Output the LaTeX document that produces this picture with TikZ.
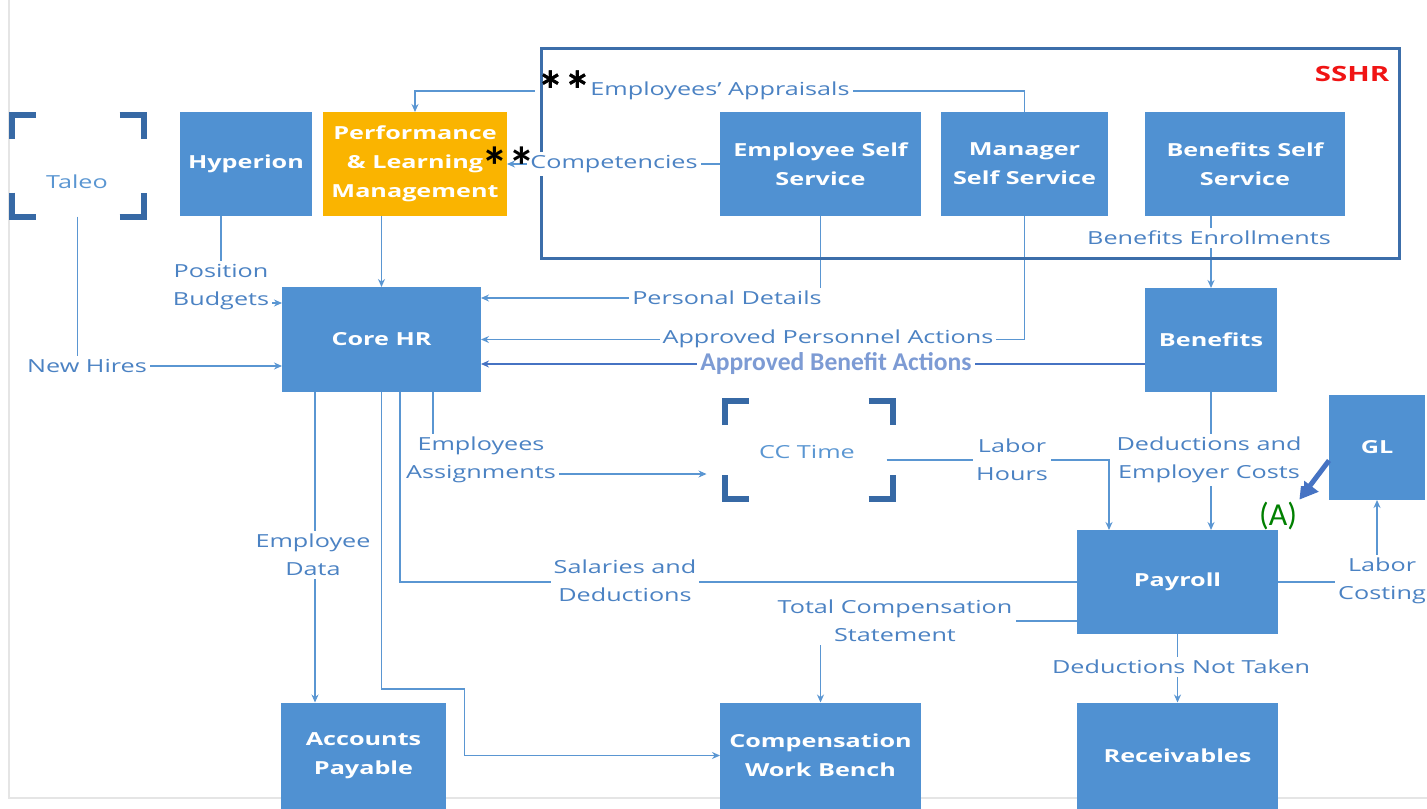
\documentclass[tikz,border=0pt]{standalone}
\usepackage{fontspec}
\setmainfont[FakeStretch=1.4]{Open Sans}
\newfontfamily\calib{Carlito}
\usetikzlibrary{arrows.meta}
\definecolor{boxblue}{RGB}{80,145,210}
\definecolor{plmorange}{RGB}{250,180,0}
\definecolor{lineblue}{RGB}{90,150,210}
\definecolor{txtblue}{RGB}{75,130,195}
\definecolor{frameblue}{RGB}{60,110,170}
\definecolor{brblue}{RGB}{55,105,165}
\definecolor{lightlbl}{RGB}{125,155,212}
\definecolor{arrblue}{RGB}{70,115,195}
\definecolor{agreen}{RGB}{0,128,0}
\definecolor{sshrred}{RGB}{240,20,20}
\newcommand\bracketsof[1]{%
  \draw[brk] ([yshift=-12pt]#1.north west) -- (#1.north west) -- ([xshift=12pt]#1.north west);
  \draw[brk] ([xshift=-12pt]#1.north east) -- (#1.north east) -- ([yshift=-12pt]#1.north east);
  \draw[brk] ([yshift=12pt]#1.south west) -- (#1.south west) -- ([xshift=12pt]#1.south west);
  \draw[brk] ([xshift=-12pt]#1.south east) -- (#1.south east) -- ([yshift=12pt]#1.south east);}
\begin{document}
\begin{tikzpicture}[x=0.5pt,y=-0.5pt,
  box/.style={fill=boxblue, text=white, font=\bfseries\fontsize{9}{14.5}\selectfont, align=center, inner sep=0pt, outer sep=0pt},
  lbl/.style={text=txtblue, font=\fontsize{9}{14}\selectfont, align=center, fill=white, inner sep=1.5pt},
  conn/.style={draw=lineblue, line width=0.6pt},
  arr/.style={conn, -{Stealth[length=4pt,width=3.5pt]}},
  brk/.style={draw=brblue, line width=3pt},
  hollow/.style={inner sep=0pt, outer sep=0pt},
  starlbl/.style={font=\calib\bfseries\fontsize{27}{27}\selectfont, text=black, inner sep=0pt},
  benlbl/.style={lbl, text=lightlbl, font=\calib\bfseries\fontsize{12.8}{14}\selectfont}]
\useasboundingbox (0,0) rectangle (1427,808);
\fill[white] (0,0) rectangle (1427,808);
\draw[black!10, line width=0.6pt] (9,0) -- (9,798) -- (1427,798);

% boxes
\node[box, minimum width=66pt, minimum height=52pt] (hyp) at (246,164) {Hyperion};
\node[box, fill=plmorange, minimum width=92pt, minimum height=52pt] (plm) at (415,164) {Performance\\\& Learning\\Management};
\node[box, minimum width=100.5pt, minimum height=52pt] (ess) at (820.5,164) {Employee Self\\Service};
\node[box, minimum width=83.5pt, minimum height=52pt] (mss) at (1024.5,164) {Manager\\Self Service};
\node[box, minimum width=100pt, minimum height=52pt] (bss) at (1245,164) {Benefits Self\\Service};
\node[box, minimum width=99.5pt, minimum height=52.5pt] (core) at (381.5,339.5) {Core HR};
\node[box, minimum width=66pt, minimum height=52pt] (ben) at (1211,340) {Benefits};
\node[box, minimum width=48pt, minimum height=52.5pt] (gl) at (1377,447.5) {GL};
\node[box, minimum width=100.5pt, minimum height=52pt] (pay) at (1177.5,582) {Payroll};
\node[box, minimum width=82.5pt, minimum height=53pt] (ap) at (363.5,755.5) {Accounts\\Payable};
\node[box, minimum width=100.5pt, minimum height=53pt] (cwb) at (820.5,755.5) {Compensation\\Work Bench};
\node[box, minimum width=100.5pt, minimum height=53pt] (rec) at (1177.5,755.5) {Receivables};

% bracket nodes
\node[hollow, minimum width=66pt, minimum height=51pt] (taleo) at (77.5,165.5) {};
\bracketsof{taleo}
\node[text=lineblue, font=\fontsize{9}{14}\selectfont, inner sep=0pt] (taleot) at (77,182) {Taleo};
\node[hollow, minimum width=84pt, minimum height=49pt] (cct) at (808.5,450) {};
\bracketsof{cct}
\node[text=lineblue, font=\fontsize{9}{14}\selectfont, inner sep=0pt] (cctt) at (807,452) {CC Time};

% labels (positions)
\node[lbl] (appr) at (720,91) {Employees’ Appraisals};
\node[lbl] (comp) at (614,164) {Competencies};
\node[lbl, fill=none] (posb) at (221,287) {Position\\Budgets};
\node[lbl] (newh) at (87,366) {New Hires};
\node[lbl] (pers) at (727,298) {Personal Details};
\node[lbl] (apa) at (828,339) {Approved Personnel Actions};
\node[lbl] (benr) at (1209,238) {Benefits Enrollments};
\node[lbl, fill=none] (empa) at (481,460) {Employees\\Assignments};
\node[lbl] (lhrs) at (1012,460) {Labor\\Hours};
\node[lbl] (dec) at (1209,460) {Deductions and\\Employer Costs};
\node[lbl] (empd) at (313,555) {Employee\\Data};
\node[lbl] (sal) at (625,581) {Salaries and\\Deductions};
\node[lbl] (lcost) at (1382,581) {Labor\\Costing};
\node[lbl] (tcs) at (895,621) {Total Compensation\\Statement};
\node[lbl] (dnt) at (1181,667) {Deductions Not Taken};
\node[benlbl] (aba) at (836,364) {Approved Benefit Actions};
\node[text=agreen, font=\calib\fontsize{16}{18}\selectfont, inner sep=0pt] (alab) at (1278,516) {(A)};

% connectors
\draw[arr] (mss.north) -- ++(0,-21) -| (plm.north);
\draw[arr] (ess.west) -- (plm.east);
\draw[arr] (core.north |- plm.south) -- (core.north);
\draw[conn] (posb.north |- hyp.south) -- (posb.north);
\draw[arr] ([yshift=-8pt]posb.east) -- ([yshift=-8pt]posb.east -| core.west);
\draw[conn] (taleo.south) -- (taleo.south |- newh.north);
\draw[arr] (newh.east) -- (newh.east -| core.west);
\draw[arr] (ess.south) |- ([yshift=20.75pt]core.east);
\draw[arr] (mss.south) |- (core.east);
\draw[arr, draw=arrblue, line width=1pt] ([yshift=-12pt]ben.west) -- ([yshift=-12pt]ben.west -| core.east);
\draw[arr] (bss.south -| ben.north) -- (ben.north);
\draw[conn] ([xshift=25.75pt]core.south) -- ([xshift=25.75pt]core.south |- empa.north);
\draw[arr] ([yshift=-7pt]empa.east) -- ([yshift=-7pt,xshift=-9pt]empa.east -| cct.west);
\draw[conn] ([xshift=9.25pt]core.south) |- (pay.west);
\draw[arr] (core.south) -- ++(0,297) -- ++(83,0) |- (cwb.west);
\draw[arr] ([xshift=-33.25pt]core.south) -- ([xshift=-33.25pt]core.south |- ap.north);
\draw[arr] ([xshift=-3pt,yshift=-5pt]cct.east) -| ([xshift=-34.25pt]pay.north);
\draw[arr] (ben.south) -- (ben.south |- pay.north);
\draw[conn] (pay.east) -- (lcost.west |- pay.east);
\draw[arr] (gl.south |- lcost.north) -- (gl.south);
\draw[conn] ([yshift=-19.5pt]pay.west) -- ([yshift=-19.5pt]pay.west -| tcs.east);
\draw[arr] (cwb.north |- tcs.south) -- (cwb.north);
\draw[arr] (pay.south) -- (rec.north);
\draw[draw=arrblue, line width=2.5pt, -{Triangle[length=9pt,width=10pt]}] ([yshift=-6.5pt]gl.west) -- ([xshift=1pt,yshift=1pt]alab.north east);

% stars over the appraisal line
\node[starlbl, fill=white, inner xsep=1pt] (st1) at (564,90) {**};

% SSHR frame (on top of the star background)
\node[draw=frameblue, line width=1.5pt, minimum width=429pt, minimum height=104.5pt, inner sep=0pt] (sshr) at (970,153.5) {};
\node[text=sshrred, font=\bfseries\fontsize{10.5}{12}\selectfont, inner sep=0pt] (sshrt) at (1352,74) {SSHR};

% labels redrawn on top of connectors
\node[lbl] at (appr) {Employees’ Appraisals};
\node[lbl] at (comp) {Competencies};
\node[lbl] at (pers) {Personal Details};
\node[lbl] at (apa) {Approved Personnel Actions};
\node[lbl] at (benr) {Benefits Enrollments};
\node[lbl] at (lhrs) {Labor\\Hours};
\node[lbl] at (dec) {Deductions and\\Employer Costs};
\node[lbl] at (empd) {Employee\\Data};
\node[lbl] at (sal) {Salaries and\\Deductions};
\node[lbl] at (lcost) {Labor\\Costing};
\node[lbl] at (tcs) {Total Compensation\\Statement};
\node[lbl] at (dnt) {Deductions Not Taken};
\node[benlbl] at (aba) {Approved Benefit Actions};
\node[starlbl] at (st1) {**};
\node[starlbl] (st2) at (508,166) {**};
\end{tikzpicture}
\end{document}
